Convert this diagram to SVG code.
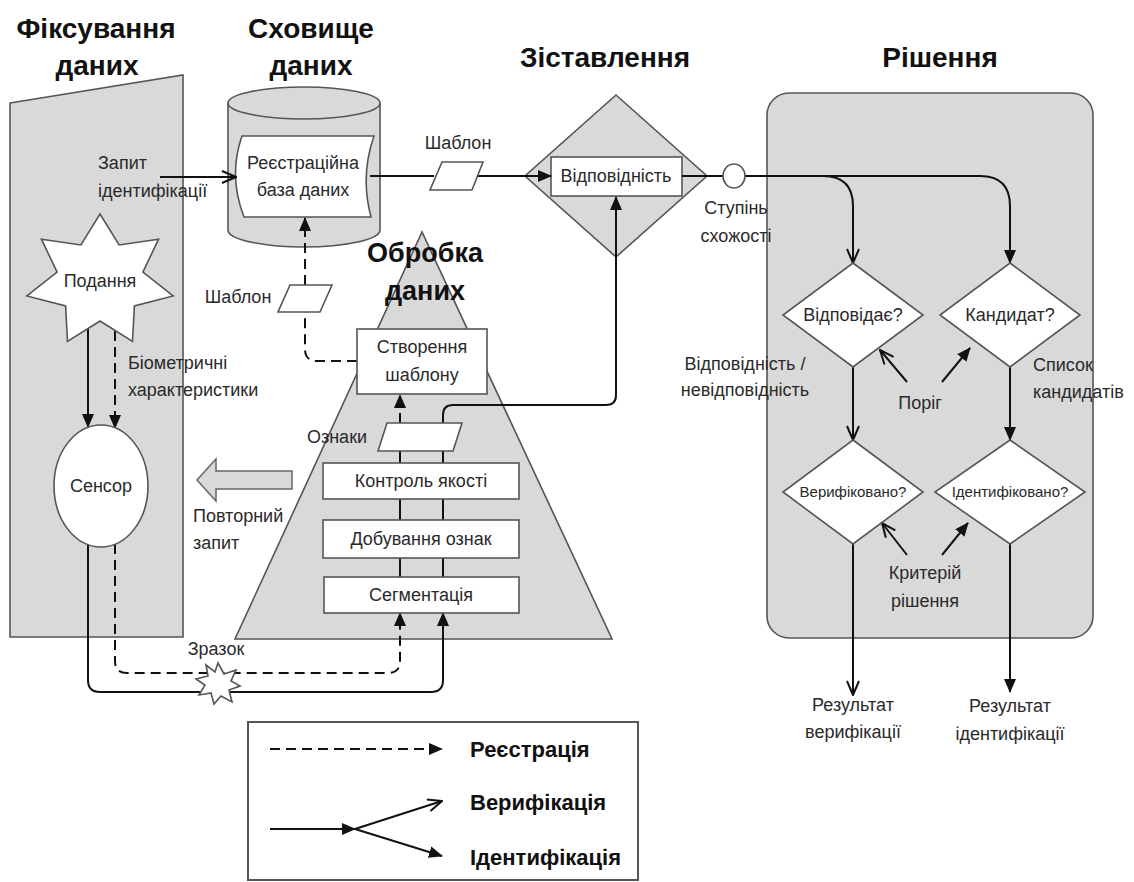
<svg xmlns="http://www.w3.org/2000/svg" width="1134" height="882" viewBox="0 0 1134 882">
<defs>
<style>
.bg{fill:#d9d9d9;stroke:#555;stroke-width:1.6}
.wh{fill:#fff;stroke:#555;stroke-width:1.6}
.ln{fill:none;stroke:#111;stroke-width:2}
.dl{fill:none;stroke:#111;stroke-width:2;stroke-dasharray:10 6}
.t{font-family:"Liberation Sans Narrow","Liberation Sans",Arial,sans-serif;font-size:18px;fill:#2a2a2a}
.s{font-size:15px}
.c{text-anchor:middle}
.h{font-family:"Liberation Sans",Arial,sans-serif;font-weight:bold;font-size:28px;fill:#111;text-anchor:middle}
.lg{font-family:"Liberation Sans Narrow","Liberation Sans",Arial,sans-serif;font-weight:bold;font-size:22px;fill:#111}
</style>
<marker id="af" viewBox="0 0 14 12" refX="13" refY="6" markerWidth="14" markerHeight="12" markerUnits="userSpaceOnUse" orient="auto"><path d="M0,0 L14,6 L0,12 Z" fill="#111"/></marker>
<marker id="ao" viewBox="0 0 16 14" refX="15" refY="7" markerWidth="16" markerHeight="14" markerUnits="userSpaceOnUse" orient="auto"><path d="M1,1 L15,7 L1,13" fill="none" stroke="#111" stroke-width="2"/></marker>
</defs>
<rect width="1134" height="882" fill="#fff"/>

<g id="titles">
<text class="h" x="96" y="38">Фіксування</text>
<text class="h" x="97" y="75">даних</text>
<text class="h" x="311" y="38">Сховище</text>
<text class="h" x="311" y="75">даних</text>
<text class="h" x="605" y="67">Зіставлення</text>
<text class="h" x="940" y="67">Рішення</text>
</g>

<g id="capture-panel">
<polygon class="bg" points="10,103 183,75 183,637 10,637"/>
</g>

<g id="decision-panel">
<rect class="bg" x="767" y="93" width="326" height="545" rx="22"/>
</g>

<g id="processing-pyramid">
<polygon class="bg" points="422,232 235,639 612,639"/>
<text class="h" x="425" y="262" style="font-size:27px">Обробка</text>
<text class="h" x="425" y="300" style="font-size:27px">даних</text>
</g>

<g id="storage">
<path class="bg" d="M228,103 A76,16 0 0 1 380,103 V230 A76,17 0 0 1 228,230 Z"/>
<path fill="none" stroke="#555" stroke-width="1.6" d="M228,103 A76,16 0 0 0 380,103"/>
<path class="wh" d="M242,136 H374 Q360,176 371,217 H244 Q228,176 242,136 Z"/>
<text class="t c" x="303" y="169">Реєстраційна</text>
<text class="t c" x="303" y="196">база даних</text>
</g>

<g id="matching">
<polygon class="bg" points="616,95 707,176 616,257 525,176"/>
<rect class="wh" x="551" y="157" width="131" height="39"/>
<text class="t c" x="616" y="182">Відповідність</text>
</g>

<g id="connectors">
<path class="ln" d="M160,177 H236" marker-end="url(#ao)"/>
<path class="ln" d="M370,176 H434"/>
<path class="ln" d="M478,176 H551" marker-end="url(#af)"/>
<path class="ln" d="M682,176 H723"/>
<path class="ln" d="M745,176 H980 Q1010,176 1010,206 V263" marker-end="url(#af)"/>
<path class="ln" d="M823,176 Q853,176 853,206 V263" marker-end="url(#ao)"/>
<path class="ln" d="M88,329 V427" marker-end="url(#af)"/>
<path class="dl" d="M115,331 V428" marker-end="url(#af)"/>
<path class="ln" d="M88,545 V680 Q88,692 100,692 H431 Q443,692 443,680 V613" marker-end="url(#af)"/>
<path class="dl" d="M115,544 V661 Q115,673 127,673 H388 Q400,673 400,661 V613" marker-end="url(#af)"/>
<path class="ln" d="M400,577 V558 M443,577 V558 M400,520 V499 M443,520 V499 M400,463 V451 M443,463 V451"/>
<path class="dl" d="M400,423 V395" marker-end="url(#af)"/>
<path class="ln" d="M443,423 V415 Q443,405 453,405 H606 Q616,405 616,395 V197" marker-end="url(#af)"/>
<path class="dl" d="M357,361 H317 Q305,361 305,349 V312"/>
<path class="dl" d="M305,285 V218" marker-end="url(#af)"/>
<path class="ln" d="M853,367 V440" marker-end="url(#ao)"/>
<path class="ln" d="M1010,367 V440" marker-end="url(#af)"/>
<path class="ln" d="M853,544 V695" marker-end="url(#ao)"/>
<path class="ln" d="M1010,544 V692" marker-end="url(#af)"/>
<path class="ln" d="M907,382 L880,350" marker-end="url(#ao)"/>
<path class="ln" d="M942,382 L970,348" marker-end="url(#af)"/>
<path class="ln" d="M907,555 L882,523" marker-end="url(#ao)"/>
<path class="ln" d="M942,555 L968,523" marker-end="url(#af)"/>
</g>

<g id="template-db">
<polygon class="wh" points="442,162 483,162 472,190 430,190"/>
<text class="t c" x="458" y="149">Шаблон</text>
</g>

<g id="template-enrol">
<polygon class="wh" points="290,285 332,285 320,312 278,312"/>
<text class="t c" x="238" y="303">Шаблон</text>
</g>

<g id="similarity">
<ellipse class="wh" cx="734" cy="176" rx="11" ry="12"/>
<text class="t c" x="736" y="214">Ступінь</text>
<text class="t c" x="736" y="242">схожості</text>
</g>

<g id="submission">
<polygon class="wh" points="100,214 119.1,245 158.6,239.2 142.9,272.1 173.1,295.9 134.4,305.9 132.5,341.4 100,321 67.5,341.4 65.6,305.9 26.9,295.9 57.1,272.1 41.4,239.2 80.9,245"/>
<text class="t c" x="100" y="287">Подання</text>
</g>

<g id="request-label">
<text class="t" x="98" y="169">Запит</text>
<text class="t" x="98" y="197">ідентифікації</text>
</g>

<g id="biometric-label">
<text class="t" x="128" y="369">Біометричні</text>
<text class="t" x="128" y="396">характеристики</text>
</g>

<g id="sensor">
<ellipse class="wh" cx="101" cy="486" rx="47" ry="61"/>
<text class="t c" x="101" y="492">Сенсор</text>
</g>

<g id="retry">
<polygon fill="#d9d9d9" stroke="#666" stroke-width="1.5" points="197,480 216,459 216,471 292,471 292,489 216,489 216,501"/>
<text class="t" x="193" y="522">Повторний</text>
<text class="t" x="193" y="549">запит</text>
</g>

<g id="template-creation">
<rect class="wh" x="357" y="329" width="130" height="65"/>
<text class="t c" x="422" y="353">Створення</text>
<text class="t c" x="422" y="381">шаблону</text>
</g>

<g id="features">
<polygon class="wh" points="387,423 462,423 453,451 378,451"/>
<text class="t c" x="337" y="443">Ознаки</text>
</g>

<g id="quality">
<rect class="wh" x="323" y="463" width="196" height="36"/>
<text class="t c" x="421" y="487">Контроль якості</text>
</g>

<g id="extraction">
<rect class="wh" x="323" y="520" width="196" height="38"/>
<text class="t c" x="421" y="545">Добування ознак</text>
</g>

<g id="segmentation">
<rect class="wh" x="324" y="577" width="195" height="36"/>
<text class="t c" x="421" y="601">Сегментація</text>
</g>

<g id="sample">
<polygon class="wh" points="218,663 224,674 236,670 231,681 240,686 229,690 232,702 221,696 214,704 211,693 199,695 205,685 196,679 208,676 206,665 215,672"/>
<text class="t c" x="216" y="655">Зразок</text>
</g>

<g id="match-decision">
<polygon class="wh" points="853,263 923,315 853,367 783,315"/>
<text class="t c" x="853" y="321">Відповідає?</text>
</g>
<g id="candidate-decision">
<polygon class="wh" points="1010,263 1080,315 1010,367 940,315"/>
<text class="t c" x="1010" y="321">Кандидат?</text>
</g>
<g id="verified-decision">
<polygon class="wh" points="853,440 923,492 853,544 783,492"/>
<text class="t s c" x="853" y="497">Верифіковано?</text>
</g>
<g id="identified-decision">
<polygon class="wh" points="1010,440 1085,492 1010,544 935,492"/>
<text class="t s c" x="1010" y="497">Ідентифіковано?</text>
</g>

<g id="decision-labels">
<text class="t c" x="745" y="370">Відповідність /</text>
<text class="t c" x="745" y="396">невідповідність</text>
<text class="t c" x="920" y="409">Поріг</text>
<text class="t" x="1033" y="371">Список</text>
<text class="t" x="1033" y="398">кандидатів</text>
<text class="t c" x="925" y="579">Критерій</text>
<text class="t c" x="925" y="607">рішення</text>
<text class="t c" x="853" y="711">Результат</text>
<text class="t c" x="853" y="738">верифікації</text>
<text class="t c" x="1010" y="712">Результат</text>
<text class="t c" x="1010" y="740">ідентифікації</text>
</g>

<g id="legend">
<rect x="248" y="722" width="390" height="158" fill="#fff" stroke="#555" stroke-width="2"/>
<path class="dl" d="M270,749 H442" marker-end="url(#af)"/>
<path class="ln" d="M270,829 H355" marker-end="url(#af)"/>
<path class="ln" d="M355,829 L442,801" marker-end="url(#ao)"/>
<path class="ln" d="M355,829 L442,856" marker-end="url(#af)"/>
<text class="lg" x="470" y="757">Реєстрація</text>
<text class="lg" x="470" y="810">Верифікація</text>
<text class="lg" x="470" y="865">Ідентифікація</text>
</g>
</svg>
